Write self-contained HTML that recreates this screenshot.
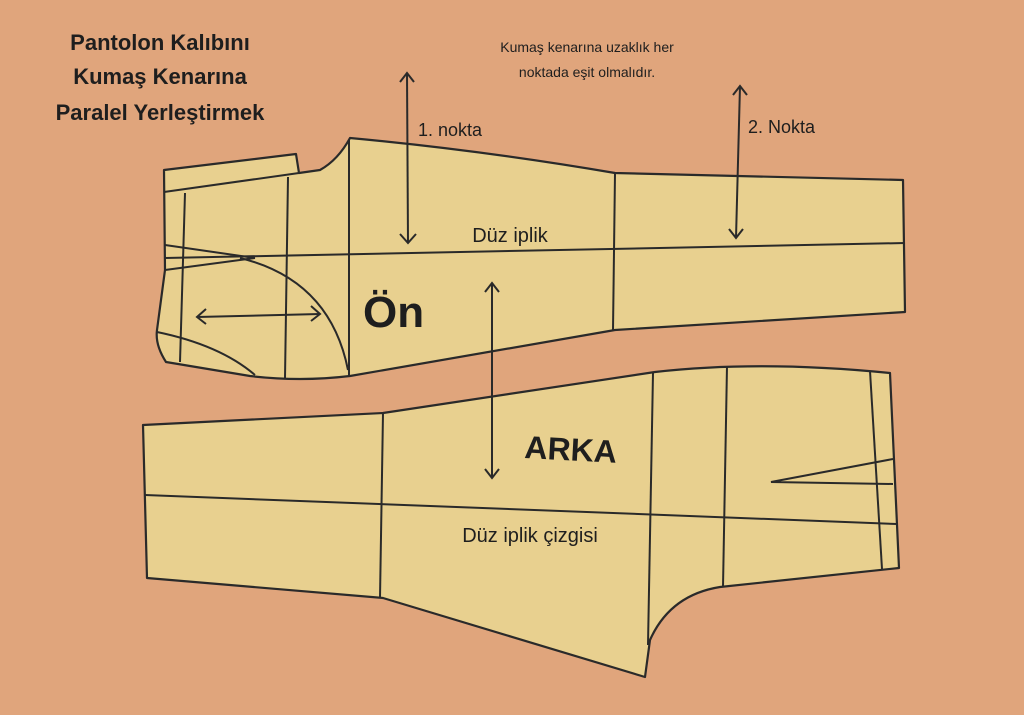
<!DOCTYPE html>
<html><head><meta charset="utf-8"><style>
html,body{margin:0;padding:0;background:#e0a57c;}
svg{display:block}
text{font-family:"Liberation Sans","DejaVu Sans",sans-serif;fill:#1e1e1e}
</style></head><body>
<svg width="1024" height="715" viewBox="0 0 1024 715" xmlns="http://www.w3.org/2000/svg">
<rect width="1024" height="715" fill="#e0a57c"/>
<g stroke="#2a2a2a" stroke-width="2.2" fill="#e8d08f" stroke-linejoin="round">
<!-- front piece -->
<path d="M164,170 L296,154 L299,173 L320,170 Q338,160 350,138 Q480,150 615,173 L903,180 L905,312 L615,330 L350,376 Q300,382 250,376 L166,362 Q155,345 157,330 L165,270 Z"/>
<!-- back piece -->
<path d="M143,425 L383,413 L655,372 Q760,360 890,373 L899,568 L720,587 Q670,595 650,640 L645,677 L383,598 L147,578 Z"/>
</g>
<g stroke="#2a2a2a" stroke-width="2" fill="none">
<!-- front interior -->
<line x1="164" y1="192" x2="299" y2="173"/>
<line x1="185" y1="193" x2="180" y2="362"/>
<line x1="288" y1="177" x2="285" y2="378"/>
<line x1="349" y1="140" x2="349" y2="376"/>
<line x1="615" y1="173" x2="613" y2="330"/>
<line x1="165" y1="258" x2="905" y2="243"/>
<line x1="165" y1="245" x2="255" y2="258"/>
<line x1="165" y1="270" x2="255" y2="258"/>
<path d="M240,258 Q330,280 348,370"/>
<path d="M157,332 Q220,345 255,375"/>
<!-- back interior -->
<line x1="383" y1="413" x2="380" y2="598"/>
<line x1="653" y1="373" x2="648" y2="645"/>
<line x1="727" y1="366" x2="723" y2="587"/>
<line x1="870" y1="371" x2="882" y2="569"/>
<line x1="145" y1="495" x2="897" y2="524"/>
<polyline points="893,459 771,482 893,484"/>
<!-- arrows -->
<line x1="197" y1="317" x2="320" y2="314"/>
<polyline points="206,309 197,317 206,324"/>
<polyline points="311,306 320,314 311,321"/>
<line x1="407" y1="73" x2="408" y2="243"/>
<polyline points="400,82 407,73 414,82"/>
<polyline points="400,234 408,243 416,234"/>
<line x1="740" y1="86" x2="736" y2="238"/>
<polyline points="733,95 740,86 747,95"/>
<polyline points="729,229 736,238 743,229"/>
<line x1="492" y1="283" x2="492" y2="478"/>
<polyline points="485,292 492,283 499,292"/>
<polyline points="485,469 492,478 499,469"/>
</g>
<g font-size="22" font-weight="bold" text-anchor="middle" fill="#1e1e1e">
<text x="160" y="50">Pantolon Kalıbını</text>
<text x="160" y="84">Kumaş Kenarına</text>
<text x="160" y="120">Paralel Yerleştirmek</text>
</g>
<g font-size="14" text-anchor="middle">
<text x="587" y="52">Kumaş kenarına uzaklık her</text>
<text x="587" y="77">noktada eşit olmalıdır.</text>
</g>
<text x="418" y="136" font-size="18">1. nokta</text>
<text x="748" y="133" font-size="18">2. Nokta</text>
<text x="510" y="242" font-size="20" text-anchor="middle">Düz iplik</text>
<text x="363" y="327" font-size="44" font-weight="bold">Ön</text>
<text x="524" y="458" font-size="32" font-weight="bold" transform="rotate(3 524 458)">ARKA</text>
<text x="530" y="542" font-size="20" text-anchor="middle">Düz iplik çizgisi</text>
</svg>
</body></html>
